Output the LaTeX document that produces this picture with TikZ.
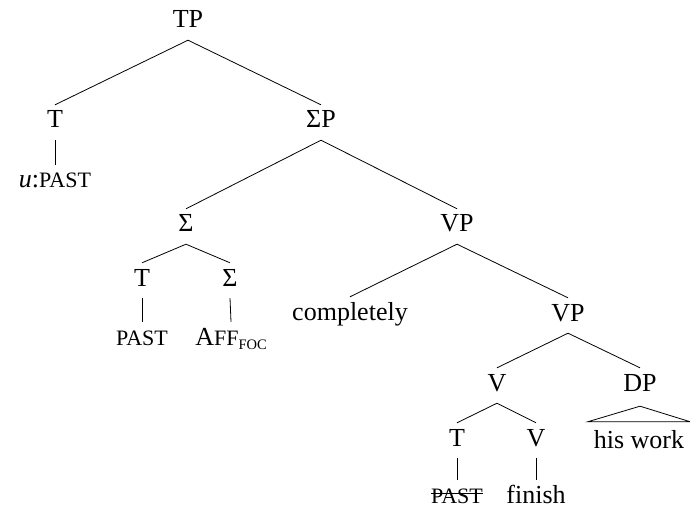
\documentclass[tikz,border=0pt]{standalone}
\usepackage{fontspec}
\setmainfont{Liberation Serif}
\newcommand\mysc[1]{{\fontsize{22bp}{24bp}\selectfont #1}}
\newcommand\mysub[1]{\raisebox{-4bp}{\fontsize{14.5bp}{18bp}\selectfont #1}}
\begin{document}
\begin{tikzpicture}[x=1bp,y=-1bp,
  lbl/.style={anchor=base,text height=17bp,text depth=6bp,inner ysep=6bp,inner xsep=2bp,
    font=\fontsize{26bp}{30bp}\selectfont},
  edge/.style={line width=0.8bp}]
\useasboundingbox (0,0) rectangle (690,508);
\node[lbl] (TP) at (188,28) {TP};
\node[lbl] (T1) at (55,128) {T};
\node[lbl] (uP) at (55,188) {\textit{u}:\mysc{PAST}};
\node[lbl] (SP) at (321,128) {ΣP};
\node[lbl] (S1) at (186,232) {Σ};
\node[lbl] (VP1) at (457,232) {VP};
\node[lbl] (T2) at (142,286) {T};
\node[lbl] (S2) at (230,286) {Σ};
\node[lbl] (P2) at (142,345) {\mysc{PAST}};
\node[lbl] (aff) at (231,345) {A\mysc{FF}\mysub{FOC}};
\node[lbl] (comp) at (350,320) {completely};
\node[lbl] (VP2) at (568,321) {VP};
\node[lbl] (V1) at (497,391) {V};
\node[lbl] (DP) at (640,391) {DP};
\node[lbl] (T3) at (457,446) {T};
\node[lbl] (V3) at (536,446) {V};
\node[lbl] (P3) at (457,503) {\mysc{PAST}};
\node[lbl] (fin) at (536,503) {finish};
\node[lbl,inner xsep=6bp] (hw) at (639,448) {his work};
\draw[edge] (TP.south) -- (T1.north);
\draw[edge] (TP.south) -- (SP.north);
\draw[edge] (T1.south) -- (uP.north);
\draw[edge] (SP.south) -- (S1.north);
\draw[edge] (SP.south) -- (VP1.north);
\draw[edge] (S1.south) -- (T2.north);
\draw[edge] (S1.south) -- (S2.north);
\draw[edge] (T2.south) -- (P2.north);
\draw[edge] (S2.south) -- (aff.north);
\draw[edge] (VP1.south) -- (comp.north);
\draw[edge] (VP1.south) -- (VP2.north);
\draw[edge] (VP2.south) -- (V1.north);
\draw[edge] (VP2.south) -- (DP.north);
\draw[edge] (V1.south) -- (T3.north);
\draw[edge] (V1.south) -- (V3.north);
\draw[edge] (T3.south) -- (P3.north);
\draw[edge] (V3.south) -- (fin.north);
\draw[edge] ([yshift=-3bp]DP.south) -- ([yshift=3bp]hw.north west) -- ([yshift=3bp]hw.north east) -- cycle;
\draw[edge] ([xshift=2bp,yshift=10bp]P3.base west) -- ([xshift=-2bp,yshift=10bp]P3.base east);
\end{tikzpicture}
\end{document}
